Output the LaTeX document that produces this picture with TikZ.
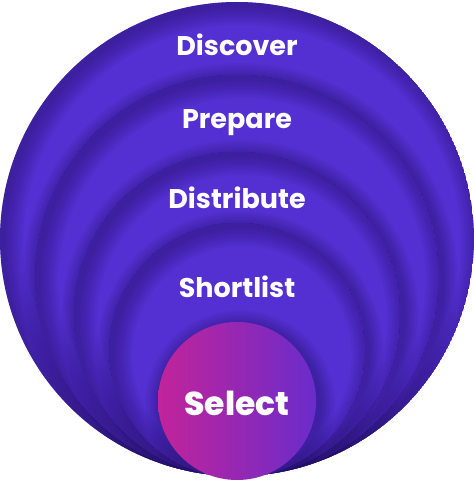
\documentclass[tikz,border=0pt]{standalone}
\usepackage{fontspec}
\newfontfamily\popsb{Poppins Bold}
\newfontfamily\popxb{Poppins ExtraBold}
\definecolor{mainc}{HTML}{5430D2}
\definecolor{shc}{HTML}{14083A}
\definecolor{magc}{HTML}{C2239A}
\definecolor{purc}{HTML}{6A2CCB}
\newcommand{\dropsh}[3]{%
  \foreach \k in {1,...,8}{\fill[shc, opacity=0.045] (#1+3,#2-4) circle ({#3+2*\k});}}
\newcommand{\innersh}[4]{%
  \begin{scope}\clip (#1,#2) circle (#3);
  \foreach \k in {0,...,9}{\fill[shc, opacity=#4, even odd rule] (#1,#2) circle (#3) (#1+5,#2-5) circle ({#3-2*\k});}
  \end{scope}}
\tikzset{
  disc/.style={fill=mainc},
  lbl/.style={text=white, font=\popsb\fontsize{27}{32}\selectfont},
  sel/.style={text=white, font=\popxb\fontsize{33}{38}\selectfont}
}
\begin{document}
\begin{tikzpicture}[x=1pt,y=1pt]
\useasboundingbox (0,0) rectangle (474,480);
\begin{scope}
\clip (237,241) circle (237);
% outer
\fill[disc] (237,241) circle (237);
\innersh{237}{241}{237}{0.035}
% ring 2
\dropsh{237}{203.5}{201.5}
\fill[disc] (237,203.5) circle (201.5);
\innersh{237}{203.5}{201.5}{0.035}
% ring 3
\dropsh{237}{165}{163}
\fill[disc] (237,165) circle (163);
\innersh{237}{165}{163}{0.035}
% ring 4
\dropsh{237}{129.5}{127.5}
\fill[disc] (237,129.5) circle (127.5);
\innersh{237}{129.5}{127.5}{0.035}
% select shadow
\dropsh{237}{79}{79}
\end{scope}
\shade[left color=magc, right color=purc] (237,79) circle (79);
\node[lbl] (discover) at (237,435) {Discover};
\node[lbl] (prepare) at (237,357) {Prepare};
\node[lbl] (distribute) at (237,282) {Distribute};
\node[lbl] (shortlist) at (237,193) {Shortlist};
\node[sel] (select) at (237,77) {Select};
\end{tikzpicture}
\end{document}
